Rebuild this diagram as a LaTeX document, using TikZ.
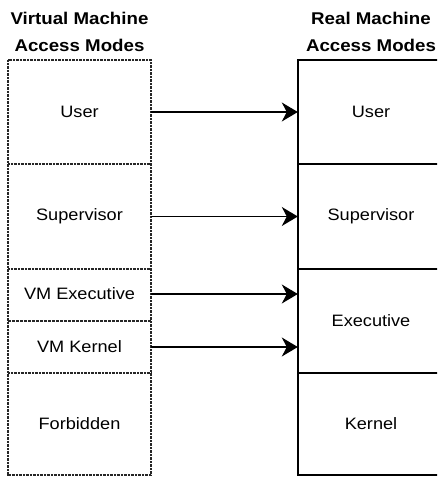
\documentclass[tikz,border=0pt]{standalone}
\usepackage{fontspec}
\setmainfont[FakeStretch=1.1]{Liberation Sans}
\usetikzlibrary{arrows.meta}
\begin{document}
\begin{tikzpicture}[x=1pt,y=-1pt,
  cell/.style={inner sep=0pt, font=\fontsize{16.5}{18}\selectfont},
  title/.style={inner sep=0pt, align=center, font=\bfseries\fontsize{17}{27}\selectfont},
  vmline/.style={line width=1.8pt, black!85, dash pattern=on 1pt off 0.4pt},
  vmdash/.style={line width=1.4pt, black!85, dash pattern=on 2.5pt off 1.5pt},
  rmline/.style={line width=1.6pt, black},
  conn/.style={line width=1.4pt, -{Stealth[length=16pt,width=19pt,inset=5pt]}}]
\useasboundingbox (0,0) rectangle (437,477);
\clip (0,0) rectangle (437,477);
% titles
\node[title] (tl) at (79.5,32) {Virtual Machine\\Access Modes};
\node[title] (tr) at (371,32) {Real Machine\\Access Modes};
% left box
\draw[vmline] (8,60) rectangle (151,475);
\draw[vmline] (8,164) -- (151,164);
\draw[vmline] (8,269) -- (151,269);
\draw[vmdash] (8,321) -- (151,321);
\draw[vmline] (8,373) -- (151,373);
% right box (extends past the right edge)
\draw[rmline] (444,60) -- (298,60) -- (298,475) -- (444,475);
\draw[rmline] (298,164) -- (444,164);
\draw[rmline] (298,269) -- (444,269);
\draw[rmline] (298,373) -- (444,373);
% left cells
\node[cell, minimum width=143pt, minimum height=104pt] (vu) at (79.5,112) {User};
\node[cell, minimum width=143pt, minimum height=105pt] (vs) at (79.5,216.5) {Supervisor};
\node[cell, minimum width=143pt, minimum height=52pt] (ve) at (79.5,294) {VM Executive};
\node[cell, minimum width=143pt, minimum height=52pt] (vk) at (79.5,347) {VM Kernel};
\node[cell, minimum width=143pt, minimum height=102pt] (vf) at (79.5,424) {Forbidden};
% right cells
\node[cell, minimum width=146pt, minimum height=104pt] (ru) at (371,112) {User};
\node[cell, minimum width=146pt, minimum height=105pt] (rs) at (371,216.5) {Supervisor};
\node[cell, minimum width=146pt, minimum height=104pt] (re) at (371,321) {Executive};
\node[cell, minimum width=146pt, minimum height=102pt] (rk) at (371,424) {Kernel};
% arrows
\draw[conn] (vu.east) -- (ru.west);
\draw[conn] (vs.east) -- (rs.west);
\draw[conn] (ve.east) -- (ve.east -| re.west);
\draw[conn] (vk.east) -- (vk.east -| re.west);
\end{tikzpicture}
\end{document}
